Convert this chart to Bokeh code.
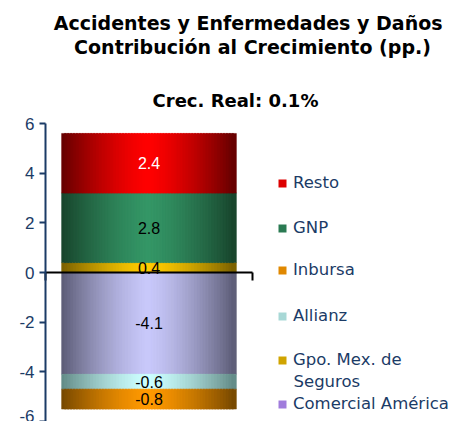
import numpy as np
from bokeh.plotting import figure
from bokeh.models import (Range1d, LinearAxis, FixedTicker, Label, Legend,
                          LegendItem, ColumnDataSource, PrintfTickFormatter)
from bokeh.core.properties import value
from bokeh.embed import file_html
from bokeh.resources import INLINE

# ---------------- data ----------------
pos_names = ["Gpo. Mex. de Seguros", "GNP", "Resto"]
pos_values = [0.4, 2.8, 2.4]
neg_names = ["Comercial América", "Allianz", "Inbursa"]
neg_values = [-4.1, -0.6, -0.8]
legend_names = ["Resto", "GNP", "Inbursa", "Allianz", "Gpo. Mex. de Seguros", "Comercial América"]
legend_labels = ["Resto", "GNP", "Inbursa", "Allianz", "Gpo. Mex. de", "Comercial América"]
legend_extra = "Seguros"
y_ticks = [-6, -4, -2, 0, 2, 4, 6]
title_line1 = "Accidentes y Enfermedades  y Daños"
title_line2 = "Contribución al Crecimiento (pp.)"
subtitle = "Crec. Real: 0.1%"

# ---------------- styles ----------------
edge_col = {"Resto": (100, 0, 0), "GNP": (24, 68, 44), "Gpo. Mex. de Seguros": (122, 96, 0),
            "Comercial América": (92, 92, 118), "Allianz": (98, 138, 134), "Inbursa": (118, 72, 0)}
center_col = {"Resto": (255, 0, 0), "GNP": (52, 150, 102), "Gpo. Mex. de Seguros": (255, 204, 0),
              "Comercial América": (200, 200, 250), "Allianz": (204, 255, 255), "Inbursa": (255, 153, 0)}
legend_col = {"Resto": "#DD0000", "GNP": "#2A7A52", "Inbursa": "#E08800", "Allianz": "#A8D8D6",
              "Gpo. Mex. de Seguros": "#D0A400", "Comercial América": "#A07CDC"}
label_col = {"Resto": "white"}
NAVY = "#1B3B66"

W, H = 464, 421
# plot frame covers the whole canvas; axes are placed with fixed_location
AX_L, AX_R = 45, 252      # x pixel of y-axis / right end of zero axis
ZERO_Y, PX_PER_UNIT = 272, 24.83
x0 = -AX_L / (AX_R - AX_L)
x1 = (W - AX_L) / (AX_R - AX_L)
y1 = ZERO_Y / PX_PER_UNIT
y0 = -(H - ZERO_Y) / PX_PER_UNIT

p = figure(width=W, height=H, output_backend="svg", toolbar_location=None,
           x_range=Range1d(x0, x1), y_range=Range1d(y0, y1),
           x_axis_type=None, y_axis_type=None,
           min_border_left=0, min_border_right=0, min_border_top=0, min_border_bottom=0)
p.outline_line_color = None
p.background_fill_color = "white"
p.border_fill_color = "white"

# y axis
ya = LinearAxis(fixed_location=0, ticker=FixedTicker(ticks=y_ticks), bounds=(-6, 6),
                formatter=PrintfTickFormatter(format="%d"))
ya.axis_line_color = NAVY
ya.axis_line_width = 2
ya.major_tick_line_color = NAVY
ya.major_tick_line_width = 2
ya.major_tick_out = 6
ya.major_tick_in = 0
ya.minor_tick_line_color = None
ya.major_label_text_color = NAVY
ya.major_label_text_font = "Liberation Sans"
ya.major_label_text_font_size = "17px"
ya.major_label_standoff = 5
p.add_layout(ya, "left")

# zero axis
xa = LinearAxis(fixed_location=0, ticker=FixedTicker(ticks=[0, 1]), bounds=(0, 1))
xa.axis_line_color = "black"
xa.axis_line_width = 2
xa.major_tick_line_color = "black"
xa.major_tick_line_width = 2
xa.major_tick_in = 0
xa.major_tick_out = 8
xa.minor_tick_line_color = None
xa.major_label_text_alpha = 0
xa.major_label_text_font_size = "1px"
p.add_layout(xa, "below")

# ---------------- bars (gradient strips) ----------------
BAR_W = 0.836
N = 60

def draw_stack(names, vals):
    base = 0.0
    for name, v in zip(names, vals):
        bottom, top = base, base + v
        base = top
        xs, cols = [], []
        e = np.array(edge_col[name]); c = np.array(center_col[name])
        for i in range(N):
            xs.append(0.5 - BAR_W / 2 + (i + 0.5) * BAR_W / N)
            t = abs(i + 0.5 - N / 2) / (N / 2)
            rgb = c + (e - c) * (t ** 1.4)
            cols.append("#%02x%02x%02x" % tuple(int(round(k)) for k in rgb))
        src = ColumnDataSource(dict(x=xs, top=[top] * N, bottom=[bottom] * N, color=cols))
        p.vbar(x="x", top="top", bottom="bottom", width=BAR_W / N * 1.6, source=src,
               fill_color="color", line_color="color", line_width=0.5)

def draw_labels(names, vals):
    base = 0.0
    for name, v in zip(names, vals):
        bottom, top = base, base + v
        base = top
        p.text(x=[0.5], y=[(bottom + top) / 2], text=["%.1f" % v],
               text_color=label_col.get(name, "black"), text_align="center",
               text_baseline="middle", text_font=value("Liberation Sans"),
               text_font_size="16px")

draw_stack(pos_names, pos_values)
draw_stack(neg_names, neg_values)
draw_labels(pos_names, pos_values)
draw_labels(neg_names, neg_values)

# ---------------- titles ----------------
def sx(px): return px
def sy(py): return H - py

for txt, cx, cy, size in [(title_line1, 251, 22, "19px"), (title_line2, 252, 46, "19px"),
                          (subtitle, 235, 100, "18px")]:
    p.add_layout(Label(x=sx(cx), y=sy(cy), x_units="screen", y_units="screen",
                       text=txt, text_align="center", text_baseline="middle",
                       text_font="DejaVu Sans", text_font_style="bold", text_font_size=size,
                       text_color="black"))

# ---------------- legend ----------------
legend_y = [183, 228, 270, 316, 360, 404]
ITEM_H = 18
for name, lab, cy in zip(legend_names, legend_labels, legend_y):
    src = ColumnDataSource(dict(x=[0.5], top=[0.0], bottom=[0.0]))
    r = p.vbar(x="x", top="top", bottom="bottom", width=0.01, source=src,
               fill_color=legend_col[name], line_color=None)
    lg = Legend(items=[LegendItem(label=lab, renderers=[r])],
                location=(sx(277), sy(cy) - ITEM_H / 2),
                padding=0, margin=0, spacing=0, border_line_color=None, background_fill_alpha=0,
                glyph_width=10, glyph_height=10, label_standoff=6, label_height=ITEM_H,
                label_text_font="DejaVu Sans", label_text_font_size="16.5px", label_text_color=NAVY)
    p.add_layout(lg, "center")

p.add_layout(Label(x=sx(293), y=sy(381), x_units="screen", y_units="screen", text=legend_extra,
                   text_baseline="middle", text_font="DejaVu Sans", text_font_size="16.5px",
                   text_color=NAVY))

open("out.html", "w").write(file_html(p, INLINE))
